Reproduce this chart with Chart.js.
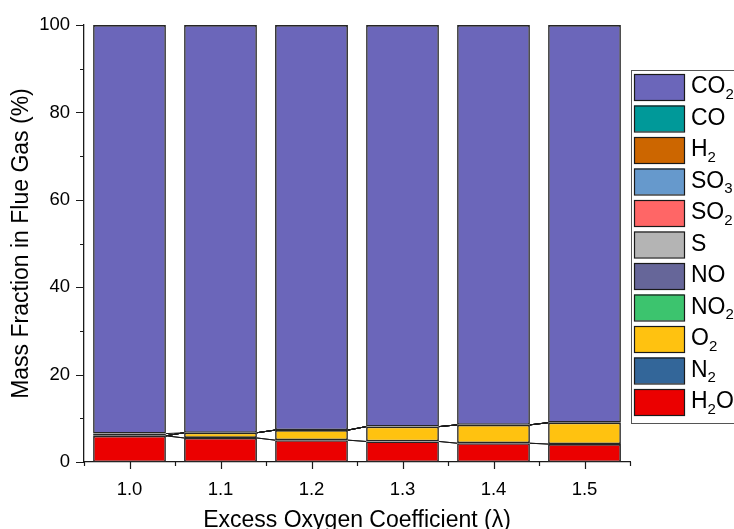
<!DOCTYPE html>
<html>
<head>
<meta charset="utf-8">
<script src="https://cdn.jsdelivr.net/npm/chart.js@4/dist/chart.umd.min.js"></script>
<style>
  html, body { margin: 0; padding: 0; background: #fff; }
  #chart { display: block; }
</style>
</head>
<body>
<canvas id="chart" width="734" height="529"></canvas>
<script>
// excess oxygen coefficient categories
const lambdas = ['1.0', '1.1', '1.2', '1.3', '1.4', '1.5'];

// mass fractions (%) per species, bottom of the stack first
const h2o = [6.0, 5.5, 5.0, 4.7, 4.3, 4.1];
const n2  = [0, 0, 0, 0, 0, 0];
const o2  = [0, 1.2, 2.3, 3.4, 4.2, 4.9];
const no2 = [0, 0, 0, 0, 0, 0];
const no  = [0, 0, 0, 0, 0, 0];
const s   = [0, 0, 0, 0, 0, 0];
const so2 = [0, 0, 0, 0, 0, 0];
const so3 = [0, 0, 0, 0, 0, 0];
const h2  = [0, 0, 0, 0, 0, 0];
const co  = [0.5, 0, 0, 0, 0, 0];
const co2 = [93.5, 93.3, 92.7, 91.9, 91.5, 91.0];

const yTicks = [0, 20, 40, 60, 80, 100];

const species = [
    { label: 'H2O', data: h2o, color: '#eb0000' },
    { label: 'N2',  data: n2,  color: '#336699' },
    { label: 'O2',  data: o2,  color: '#ffc210' },
    { label: 'NO2', data: no2, color: '#3cc46e' },
    { label: 'NO',  data: no,  color: '#666699' },
    { label: 'S',   data: s,   color: '#b4b4b4' },
    { label: 'SO2', data: so2, color: '#ff6666' },
    { label: 'SO3', data: so3, color: '#6699cc' },
    { label: 'H2',  data: h2,  color: '#cc6600' },
    { label: 'CO',  data: co,  color: '#009999' },
    { label: 'CO2', data: co2, color: '#6b66ba' }
];

const FONT = "'Liberation Sans', Arial, sans-serif";
const INK = '#1a1a1a';

// draws "CO2" style text with digits as subscripts
function drawFormula(ctx, text, x, y, size) {
    let cx = x;
    for (const ch of text) {
        if (/[0-9]/.test(ch)) {
            ctx.font = Math.round(size * 0.65) + 'px ' + FONT;
            ctx.fillText(ch, cx, y + size * 0.32);
        } else {
            ctx.font = size + 'px ' + FONT;
            ctx.fillText(ch, cx, y);
        }
        cx += ctx.measureText(ch).width;
    }
}

// lines joining each stack level between neighbouring bars
const connectors = {
    id: 'connectors',
    afterDatasetsDraw(chart) {
        const ctx = chart.ctx;
        ctx.save();
        ctx.strokeStyle = INK;
        ctx.lineWidth = 1;
        for (let d = 0; d < chart.data.datasets.length - 1; d++) {
            const bars = chart.getDatasetMeta(d).data;
            for (let i = 0; i < bars.length - 1; i++) {
                const a = bars[i], b = bars[i + 1];
                ctx.beginPath();
                ctx.moveTo(a.x + a.width / 2, a.y);
                ctx.lineTo(b.x - b.width / 2, b.y);
                ctx.stroke();
            }
        }
        ctx.restore();
    }
};

// outward tick marks, major and minor
const axisTicks = {
    id: 'axisTicks',
    afterDraw(chart) {
        const ctx = chart.ctx;
        const xs = chart.scales.x, ys = chart.scales.y;
        const area = chart.chartArea;
        ctx.save();
        ctx.strokeStyle = INK;
        ctx.lineWidth = 1.2;
        ctx.beginPath();
        for (let v = 0; v <= 100; v += 10) {
            const py = Math.round(ys.getPixelForValue(v)) + 0.5;
            const len = v % 20 === 0 ? 8 : 4;
            ctx.moveTo(area.left - len, py);
            ctx.lineTo(area.left, py);
        }
        const step = xs.getPixelForValue(1) - xs.getPixelForValue(0);
        lambdas.forEach((l, i) => {
            const px = Math.round(xs.getPixelForValue(i)) + 0.5;
            ctx.moveTo(px, area.bottom);
            ctx.lineTo(px, area.bottom + 7);
        });
        for (let i = 0; i <= lambdas.length; i++) {
            const px = Math.round(xs.getPixelForValue(0) - step / 2 + i * step) + 0.5;
            ctx.moveTo(px, area.bottom);
            ctx.lineTo(px, area.bottom + 4);
        }
        ctx.stroke();
        ctx.restore();
    }
};

// boxed legend with subscripted formulas, CO2 on top
const formulaLegend = {
    id: 'formulaLegend',
    afterDraw(chart) {
        const ctx = chart.ctx;
        const left = 631, top = 70, bottom = 423;
        ctx.save();
        ctx.fillStyle = '#fff';
        ctx.fillRect(left, top, 120, bottom - top);
        ctx.strokeStyle = '#555';
        ctx.lineWidth = 1;
        ctx.strokeRect(left + 0.5, top + 0.5, 120, bottom - top);
        const items = chart.data.datasets.slice().reverse();
        const rowH = 31.5;
        items.forEach((ds, i) => {
            const cy = top + 17 + i * rowH;
            ctx.fillStyle = ds.backgroundColor;
            ctx.fillRect(634, cy - 13, 50, 26);
            ctx.strokeStyle = INK;
            ctx.lineWidth = 1.2;
            ctx.strokeRect(634.5, cy - 12.5, 50, 26);
            ctx.fillStyle = '#000';
            ctx.textBaseline = 'middle';
            drawFormula(ctx, ds.label, 691, cy, 23);
        });
        ctx.restore();
    }
};

const canvas = document.getElementById('chart');

const chart = new Chart(canvas, {
    type: 'bar',
    data: {
        labels: lambdas,
        datasets: species.map(sp => ({
            label: sp.label,
            data: sp.data,
            backgroundColor: sp.color,
            borderColor: '#262626',
            borderWidth: 1.6,
            borderSkipped: false,
            inflateAmount: 0,
            categoryPercentage: 1,
            barPercentage: 0.8
        }))
    },
    plugins: [connectors, axisTicks, formulaLegend],
    options: {
        responsive: false,
        animation: false,
        layout: { padding: { left: 0, right: 104, top: 24, bottom: 0 } },
        plugins: {
            legend: { display: false },
            tooltip: { enabled: false }
        },
        scales: {
            x: {
                stacked: true,
                offset: true,
                grid: { display: false, drawTicks: false },
                border: { display: true, color: INK, width: 1.3 },
                ticks: { color: '#000', padding: 17, font: { family: FONT, size: 18.5 } },
                title: {
                    display: true,
                    text: 'Excess Oxygen Coefficient (λ)',
                    color: '#000',
                    font: { family: FONT, size: 23, lineHeight: 0.7 },
                    padding: { top: 0, bottom: 0 }
                },
                afterFit: scale => { scale.height = 67; }
            },
            y: {
                stacked: true,
                min: 0,
                max: 100,
                grid: { display: false, drawTicks: false },
                border: { display: true, color: INK, width: 1.3 },
                afterBuildTicks: scale => {
                    scale.ticks = yTicks.map(v => ({ value: v }));
                },
                ticks: { color: '#000', padding: 14, font: { family: FONT, size: 18.5 } },
                title: {
                    display: true,
                    text: 'Mass Fraction in Flue Gas (%)',
                    color: '#000',
                    font: { family: FONT, size: 23 },
                    padding: { top: 8, bottom: 0 }
                },
                afterFit: scale => { scale.width = 84; }
            }
        }
    }
});
</script>
</body>
</html>
